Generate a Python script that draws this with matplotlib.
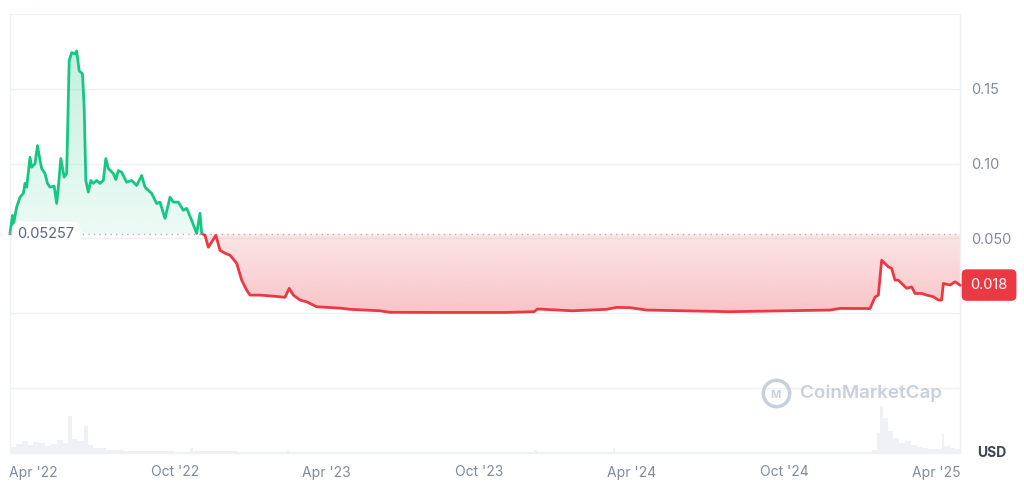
import matplotlib.pyplot as plt
import matplotlib.dates as mdates
import matplotlib.colors as mcolors
import numpy as np
import pandas as pd
from matplotlib.path import Path
from matplotlib.patches import Rectangle
from matplotlib.transforms import ScaledTranslation, blended_transform_factory

plt.rcParams['font.family'] = ['Inter', 'DejaVu Sans']

# price (USD)
dates = ['2022-03-17', '2022-03-20', '2022-03-21', '2022-03-25', '2022-03-29', '2022-04-02',
         '2022-04-04', '2022-04-06', '2022-04-10', '2022-04-12', '2022-04-16', '2022-04-19',
         '2022-04-21', '2022-04-24', '2022-04-28', '2022-05-01', '2022-05-04', '2022-05-09',
         '2022-05-12', '2022-05-14', '2022-05-17', '2022-05-21', '2022-05-24', '2022-05-27',
         '2022-05-30', '2022-06-03', '2022-06-05', '2022-06-08', '2022-06-12', '2022-06-14',
         '2022-06-16', '2022-06-19', '2022-06-22', '2022-06-25', '2022-06-29', '2022-07-03',
         '2022-07-07', '2022-07-10', '2022-07-13', '2022-07-19', '2022-07-22', '2022-07-25',
         '2022-07-29', '2022-08-04', '2022-08-10', '2022-08-16', '2022-08-22', '2022-08-26',
         '2022-09-03', '2022-09-09', '2022-09-13', '2022-09-19', '2022-09-25', '2022-09-29',
         '2022-10-05', '2022-10-11', '2022-10-15', '2022-10-21', '2022-10-27', '2022-10-31',
         '2022-11-02', '2022-11-06', '2022-11-10', '2022-11-14', '2022-11-19', '2022-11-24',
         '2022-11-30', '2022-12-06', '2022-12-14', '2022-12-20', '2022-12-26', '2022-12-30',
         '2023-01-11', '2023-01-27', '2023-02-10', '2023-02-15', '2023-02-20', '2023-02-28',
         '2023-03-08', '2023-03-20', '2023-04-01', '2023-04-17', '2023-04-29', '2023-06-04',
         '2023-06-16', '2023-08-15', '2023-11-02', '2023-12-06', '2023-12-10', '2024-01-21',
         '2024-03-02', '2024-03-14', '2024-03-30', '2024-04-19', '2024-07-28', '2024-11-25',
         '2024-12-07', '2025-01-12', '2025-01-18', '2025-01-22', '2025-01-26', '2025-01-30',
         '2025-02-03', '2025-02-07', '2025-02-11', '2025-02-15', '2025-02-19', '2025-02-25',
         '2025-03-03', '2025-03-07', '2025-03-15', '2025-03-21', '2025-03-29', '2025-04-04',
         '2025-04-08', '2025-04-10', '2025-04-18', '2025-04-24', '2025-04-30']
prices = [0.0533, 0.0653, 0.0587, 0.0709, 0.0775, 0.0800,
          0.0867, 0.0842, 0.1042, 0.0975, 0.1000, 0.1120,
          0.1053, 0.0967, 0.0933, 0.0867, 0.0842, 0.0849,
          0.0733, 0.0842, 0.1033, 0.0909, 0.0933, 0.1687,
          0.1742, 0.1733, 0.1753, 0.1620, 0.1600, 0.1375,
          0.0887, 0.0809, 0.0887, 0.0867, 0.0887, 0.0867,
          0.0887, 0.1033, 0.0967, 0.0933, 0.0893, 0.0953,
          0.0942, 0.0875, 0.0887, 0.0853, 0.0920, 0.0842,
          0.0800, 0.0733, 0.0742, 0.0633, 0.0775, 0.0742,
          0.0742, 0.0687, 0.0700, 0.0620, 0.0533, 0.0667,
          0.0533, 0.0520, 0.0440, 0.0475, 0.0520, 0.0420,
          0.0400, 0.0387, 0.0333, 0.0220, 0.0153, 0.0120,
          0.0120, 0.0113, 0.0105, 0.0165, 0.0120, 0.0087,
          0.0075, 0.0042, 0.0038, 0.0033, 0.0025, 0.0015,
          0.0005, 0.0004, 0.0004, 0.0009, 0.0027, 0.0015,
          0.0025, 0.0038, 0.0036, 0.0020, 0.0009, 0.0020,
          0.0031, 0.0030, 0.0107, 0.0120, 0.0353, 0.0331,
          0.0309, 0.0298, 0.0220, 0.0220, 0.0198, 0.0165,
          0.0175, 0.0131, 0.0131, 0.0120, 0.0109, 0.0087,
          0.0087, 0.0198, 0.0187, 0.0209, 0.0187]
base_price = 0.05257
last_label = '0.018'

# volume (relative units)
vol_dates = ['2022-03-17', '2022-03-24', '2022-03-31', '2022-04-07', '2022-04-14', '2022-04-21',
             '2022-04-28', '2022-05-05', '2022-05-12', '2022-05-19', '2022-05-26', '2022-05-30',
             '2022-06-06', '2022-06-14', '2022-06-18', '2022-06-25', '2022-07-10', '2022-08-01',
             '2022-09-01', '2022-10-01', '2022-10-19', '2022-10-22', '2022-11-15', '2022-12-15',
             '2023-01-15', '2023-02-12', '2023-02-15', '2023-03-15', '2023-12-06', '2023-12-09',
             '2024-03-09', '2024-03-12', '2025-01-14', '2025-01-20', '2025-01-24', '2025-01-28',
             '2025-02-02', '2025-02-09', '2025-02-16', '2025-02-23', '2025-03-02', '2025-03-09',
             '2025-03-16', '2025-03-23', '2025-03-30', '2025-04-08', '2025-04-11', '2025-04-18',
             '2025-04-24', '2025-04-30']
vol_values = [6, 9, 12, 8, 11, 10,
              7, 9, 13, 10, 37, 14,
              12, 27, 8, 5, 3, 2.5,
              2, 1.5, 5, 2, 2, 1.5,
              1, 3, 1, 0.7, 3, 0.7,
              5, 0.7, 3, 20, 47, 35,
              22, 15, 10, 12, 8, 6,
              5, 4, 4, 19, 7, 5,
              4, 0]

tick_dates = ['2022-04-01', '2022-10-01', '2023-04-01', '2023-10-01', '2024-04-01', '2024-10-01', '2025-04-01']
tick_labels = ["Apr '22", "Oct '22", "Apr '23", "Oct '23", "Apr '24", "Oct '24", "Apr '25"]

green = '#16c784'
red = '#ea3943'
grid_c = '#eff2f5'
label_c = '#808a9d'

x = mdates.date2num(pd.to_datetime(dates))
y = np.array(prices)
vx = mdates.date2num(pd.to_datetime(vol_dates))

fig = plt.figure(figsize=(10.24, 4.99), dpi=100)
ax = fig.add_axes([10 / 1024, 1 - 453 / 499, 950 / 1024, 439 / 499])

# volume in the background
ax2 = ax.twinx()
ax2.set_zorder(0)
ax.set_zorder(1)
ax.patch.set_visible(False)
ax2.bar(vx[:-1], vol_values[:-1], width=np.diff(vx), align='edge', color='#eff1f5', linewidth=0)
ax2.set_ylim(0, 440)
ax2.axis('off')


def gradient_fill(above, color, a_near, a_far, y_far):
    where = y >= base_price if above else y <= base_price
    poly = ax.fill_between(x, y, base_price, where=where, interpolate=True,
                           facecolor='none', edgecolor='none')
    path = Path.make_compound_path(*poly.get_paths())
    n = 256
    rgba = np.zeros((n, 1, 4))
    rgba[..., :3] = mcolors.to_rgb(color)
    rgba[:, 0, 3] = np.linspace(a_near, a_far, n)
    if not above:
        rgba = rgba[::-1]
    lo, hi = sorted([base_price, y_far])
    im = ax.imshow(rgba, extent=[x[0], x[-1], lo, hi], origin='lower', aspect='auto',
                   zorder=1, interpolation='bilinear')
    im.set_clip_path(path, ax.transData)


gradient_fill(True, green, 0.08, 0.26, 0.18)
gradient_fill(False, red, 0.13, 0.30, 0.0)

# line, green above the base price and red below
l1, = ax.plot(x, y, color=green, lw=2, zorder=3, solid_joinstyle='round')
l1.set_clip_path(Rectangle((x[0] - 30, base_price), x[-1] - x[0] + 60, 1, transform=ax.transData))
l2, = ax.plot(x, y, color=red, lw=2, zorder=3, solid_joinstyle='round')
l2.set_clip_path(Rectangle((x[0] - 30, base_price - 1), x[-1] - x[0] + 60, 1, transform=ax.transData))

ax.axhline(base_price, color='#a6b0c3', lw=1, ls=(0, (1, 3)), zorder=2)

ax.set_xlim(x[0], x[-1])
ax.set_ylim(-0.0936, 0.2)

ax.set_yticks([-0.05, 0, 0.05, 0.10, 0.15, 0.20])
ax.set_yticklabels(['', '', '0.050', '0.10', '0.15', ''])
ax.yaxis.tick_right()
ax.tick_params(axis='y', length=0, pad=8, labelsize=10.5, labelcolor=label_c)
ax.grid(axis='y', color=grid_c, lw=1)
ax.set_axisbelow(True)

ax.set_xticks(mdates.date2num(pd.to_datetime(tick_dates)))
ax.set_xticklabels(tick_labels)
ax.tick_params(axis='x', length=0, pad=9, labelsize=10, labelcolor=label_c)
first = ax.get_xticklabels()[0]
first.set_transform(first.get_transform() + ScaledTranslation(0.105, 0, fig.dpi_scale_trans))

ax.spines['top'].set_visible(False)
for s in ['left', 'right', 'bottom']:
    ax.spines[s].set_color(grid_c)
    ax.spines[s].set_linewidth(1)

# base price label on the left
tr = blended_transform_factory(ax.transAxes, ax.transData)
ax.text(0.008, base_price, '0.05257', transform=tr, ha='left', va='center', fontsize=10.5,
        color='#58667e', zorder=5,
        bbox=dict(boxstyle='round,pad=0.4,rounding_size=0.6', fc='white', ec='none'))

# last price label
ax.annotate(last_label, xy=(1, y[-1]), xycoords=tr, xytext=(7.5, 0), textcoords='offset points',
            ha='left', va='center', color='white', fontsize=10.5, annotation_clip=False, zorder=6,
            bbox=dict(boxstyle='round,pad=0.6,rounding_size=0.35', fc=red, ec='none'))

ax.text(1.018, 0.0, 'USD', transform=ax.transAxes, ha='left', va='center', fontsize=10,
        fontweight='bold', color='#3b4252')

# watermark
wm = '#c8d0dc'
ax.plot([0.806], [0.137], marker='o', ms=19, mfc='none', mec=wm, mew=2.5,
        transform=ax.transAxes, zorder=2, clip_on=False)
ax.text(0.806, 0.132, 'M', transform=ax.transAxes, ha='center', va='center', fontsize=8,
        fontweight='bold', color=wm, zorder=2)
ax.text(0.832, 0.137, 'CoinMarketCap', transform=ax.transAxes, ha='left', va='center',
        fontsize=13.5, fontweight='semibold', color=wm, zorder=2)

plt.savefig('out.png', dpi=100)
